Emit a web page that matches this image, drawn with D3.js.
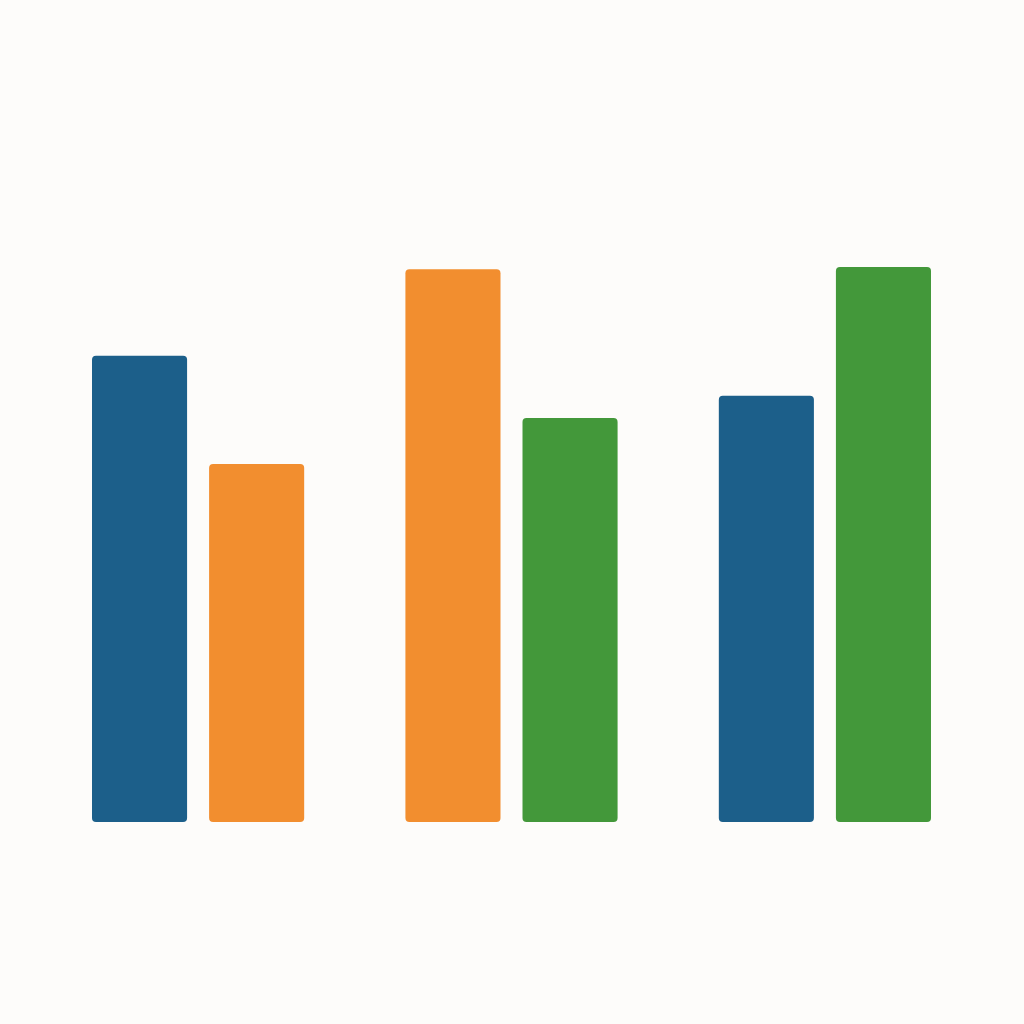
<!DOCTYPE html>
<html>
<head>
<meta charset="utf-8">
<script src="https://cdn.jsdelivr.net/npm/d3@7"></script>
<style>
  html, body { margin: 0; padding: 0; background: #fdfcfa; }
  svg { display: block; }
</style>
</head>
<body>
<svg id="chart" width="1024" height="1024"></svg>
<script>
// Data
const groups = ["Group 1", "Group 2", "Group 3"];
const slots = ["first", "second"];
const barSeries = [["Series A", "Series B"], ["Series B", "Series C"], ["Series A", "Series C"]];
const barValues = [[84.0, 64.5], [99.6, 72.8], [76.8, 100.0]];
const seriesNames = ["Series A", "Series B", "Series C"];
const seriesColors = ["#1c5f8a", "#f28e2f", "#43983a"];

const svg = d3.select("#chart");
const W = 1024, H = 1024;
svg.append("rect").attr("width", W).attr("height", H).attr("fill", "#fdfcfa");

const x0 = d3.scaleBand().domain(groups).range([92, 931]).paddingInner(0.323).paddingOuter(0);
const x1 = d3.scaleBand().domain(slots).range([0, x0.bandwidth()]).paddingInner(0.188).paddingOuter(0);
const y = d3.scaleLinear().domain([0, 100]).range([822, 267]);
const color = d3.scaleOrdinal().domain(seriesNames).range(seriesColors);

const rows = [];
groups.forEach((g, gi) => {
  slots.forEach((s, si) => {
    rows.push({ group: g, slot: s, series: barSeries[gi][si], value: barValues[gi][si] });
  });
});

svg.append("g").selectAll("rect").data(rows).join("rect")
  .attr("x", d => x0(d.group) + x1(d.slot))
  .attr("y", d => y(d.value))
  .attr("width", x1.bandwidth())
  .attr("height", d => y(0) - y(d.value))
  .attr("rx", 4).attr("ry", 4)
  .attr("fill", d => color(d.series));
</script>
</body>
</html>
